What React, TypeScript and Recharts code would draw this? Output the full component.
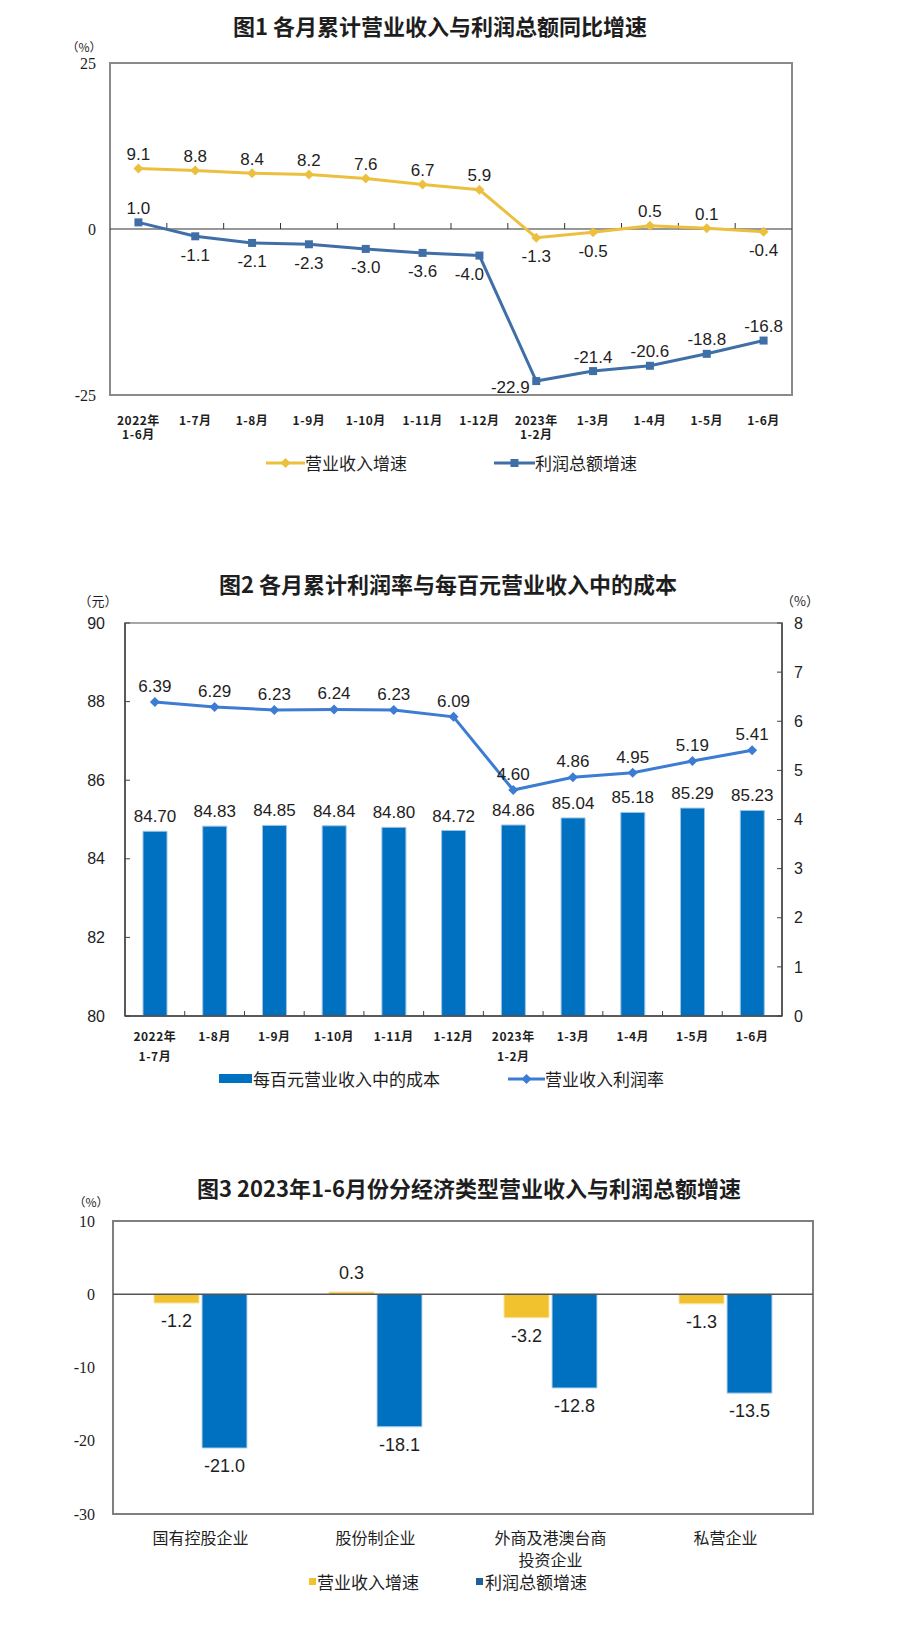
import React from 'react';
import {
  LineChart,
  Line,
  BarChart,
  Bar,
  ComposedChart,
  XAxis,
  YAxis,
  ReferenceLine,
  ReferenceArea,
  LabelList,
} from 'recharts';

const SANS = '"Liberation Sans", Arial, "Noto Sans CJK SC", sans-serif';
const SERIF = '"Liberation Serif", "Times New Roman", serif';
const CJK = '"Noto Sans CJK SC", "Noto Sans", sans-serif';

// 图1 各月累计营业收入与利润总额同比增速
const months1 = ['2022年\n1-6月', '1-7月', '1-8月', '1-9月', '1-10月', '1-11月', '1-12月', '2023年\n1-2月', '1-3月', '1-4月', '1-5月', '1-6月'];
const revenueGrowth1 = [9.1, 8.8, 8.4, 8.2, 7.6, 6.7, 5.9, -1.3, -0.5, 0.5, 0.1, -0.4];
const profitGrowth1 = [1.0, -1.1, -2.1, -2.3, -3.0, -3.6, -4.0, -22.9, -21.4, -20.6, -18.8, -16.8];
const revenueLabelSide1 = ['above', 'above', 'above', 'above', 'above', 'above', 'above', 'below', 'below', 'above', 'above', 'below'];
const profitLabelSide1 = ['above', 'below', 'below', 'below', 'below', 'below', 'belowLeft', 'left', 'above', 'above', 'above', 'above'];

// 图2 各月累计利润率与每百元营业收入中的成本
const months2 = ['2022年\n1-7月', '1-8月', '1-9月', '1-10月', '1-11月', '1-12月', '2023年\n1-2月', '1-3月', '1-4月', '1-5月', '1-6月'];
const costPer100 = [84.7, 84.83, 84.85, 84.84, 84.8, 84.72, 84.86, 85.04, 85.18, 85.29, 85.23];
const profitMargin = [6.39, 6.29, 6.23, 6.24, 6.23, 6.09, 4.6, 4.86, 4.95, 5.19, 5.41];

// 图3 2023年1-6月份分经济类型营业收入与利润总额增速
const ownershipTypes = ['国有控股企业', '股份制企业', '外商及港澳台商\n投资企业', '私营企业'];
const revenueGrowth3 = [-1.2, 0.3, -3.2, -1.3];
const profitGrowth3 = [-21.0, -18.1, -12.8, -13.5];

const data1 = months1.map((m, i) => ({ month: m, revenue: revenueGrowth1[i], profit: profitGrowth1[i] }));
const data2 = months2.map((m, i) => ({ month: m, cost: costPer100[i], margin: profitMargin[i] }));
const data3 = ownershipTypes.map((t, i) => ({ type: t, revenue: revenueGrowth3[i], profit: profitGrowth3[i] }));

const YELLOW1 = '#EBC03F';
const BLUE1 = '#3F6FA6';
const BAR_BLUE = '#0070C0';
const LINE_BLUE2 = '#3C7CD3';
const YELLOW3 = '#F2C12E';
const TEXT = '#1e1e1e';

function multiLineTick(offset: number, lineH: number, fontSize: number, fontFamily: string, weight: number | string, spacing = 0) {
  return (props: any) => {
    const { x, y, payload } = props;
    const lines = String(payload.value).split('\n');
    return (
      <g>
        {lines.map((l, i) => (
          <text key={i} x={x} y={y + offset + i * lineH} textAnchor="middle" dominantBaseline="central"
            fontSize={fontSize} fontFamily={fontFamily} fontWeight={weight} letterSpacing={spacing} fill={TEXT}>
            {l}
          </text>
        ))}
      </g>
    );
  };
}

function lineWithBoundaryTicks(count: number, len: number, color: string, width: number) {
  return (props: any) => {
    const { x1, x2, y1, y2 } = props;
    const step = (x2 - x1) / count;
    const ticks = [];
    for (let k = 1; k < count; k++) {
      ticks.push(<line key={k} x1={x1 + k * step} x2={x1 + k * step} y1={y1} y2={y1 - len} stroke={color} strokeWidth={1} />);
    }
    return (
      <g>
        <line x1={x1} y1={y1} x2={x2} y2={y2} stroke={color} strokeWidth={width} />
        {ticks}
      </g>
    );
  };
}

function pointLabel(sides: string[], fontSize: number) {
  return (props: any) => {
    const vb = props.viewBox || {};
    const x = props.x ?? vb.x;
    const y = props.y ?? vb.y;
    const side = sides[props.index];
    let dx = 0;
    let dy = -14;
    if (side === 'below') dy = 19;
    if (side === 'belowLeft') { dx = -10; dy = 19; }
    if (side === 'left') { dx = -26; dy = 6; }
    return (
      <text x={x + dx} y={y + dy} textAnchor="middle" dominantBaseline="central" fontSize={fontSize} fontFamily={SANS} fill={TEXT}>
        {Number(props.value).toFixed(1)}
      </text>
    );
  };
}

function barEndLabel(props: any) {
  const vb = props.viewBox || props;
  const top = Math.min(vb.y, vb.y + vb.height);
  const bottom = Math.max(vb.y, vb.y + vb.height);
  const cx = vb.x + vb.width / 2;
  const v = Number(props.value);
  const ty = v < 0 ? bottom + 18 : top - 19;
  return (
    <text x={cx} y={ty} textAnchor="middle" dominantBaseline="central" fontSize={18} fontFamily={SANS} fill={TEXT}>
      {v.toFixed(1)}
    </text>
  );
}

const diamond = (color: string, r: number) => (props: any) => {
  const { cx, cy, index } = props;
  if (cx == null || cy == null) return null;
  return <path key={index} d={`M${cx} ${cy - r}L${cx + r} ${cy}L${cx} ${cy + r}L${cx - r} ${cy}Z`} fill={color} />;
};

const square = (color: string, s: number) => (props: any) => {
  const { cx, cy, index } = props;
  if (cx == null || cy == null) return null;
  return <rect key={index} x={cx - s / 2} y={cy - s / 2} width={s} height={s} fill={color} />;
};

const abs = (left: number, top: number, extra: React.CSSProperties = {}): React.CSSProperties => ({
  position: 'absolute', left, top, ...extra,
});

function Title({ text, cx, cy }: { text: string; cx: number; cy: number }) {
  return (
    <div style={abs(cx, cy, { transform: 'translate(-50%, -50%)', whiteSpace: 'nowrap', fontFamily: CJK, fontSize: 22, fontWeight: 700, color: TEXT, lineHeight: '26px' })}>
      {text}
    </div>
  );
}

function Unit({ text, cx, cy, size }: { text: string; cx: number; cy: number; size: number }) {
  return (
    <div style={abs(cx, cy, { transform: 'translate(-50%, -50%)', whiteSpace: 'nowrap', fontFamily: CJK, fontSize: size, color: TEXT, lineHeight: `${size + 2}px` })}>
      {text}
    </div>
  );
}

function LegendText({ text, left, cy }: { text: string; left: number; cy: number }) {
  return (
    <div style={abs(left, cy - 11, { whiteSpace: 'nowrap', fontFamily: CJK, fontSize: 17, color: TEXT, lineHeight: '22px' })}>
      {text}
    </div>
  );
}

function Chart1() {
  return (
    <>
      <Title text="图1  各月累计营业收入与利润总额同比增速" cx={440} cy={25} />
      <Unit text="（%）" cx={84} cy={47} size={12} />
      <div style={abs(0, 0)}>
        <LineChart width={917} height={500} data={data1} margin={{ top: 63, right: 125, bottom: 0, left: 0 }}>
          <ReferenceArea y1={-25} y2={25} fill="none" stroke="#8a8a8a" strokeWidth={2} />
          <XAxis dataKey="month" scale="band" height={105} interval={0} axisLine={false} tickLine={false} tickSize={0} tickMargin={0}
            tick={multiLineTick(24, 14, 12, CJK, 700, 0.5)} />
          <YAxis width={110} domain={[-25, 25]} ticks={[-25, 0, 25]} axisLine={false} tickLine={false} tickSize={0} tickMargin={14}
            tick={{ fontSize: 16, fontFamily: SERIF, fill: TEXT }} />
          <ReferenceLine y={0} shape={lineWithBoundaryTicks(months1.length, 6, '#333', 1.2)} />
          <Line dataKey="revenue" stroke={YELLOW1} strokeWidth={3} dot={diamond(YELLOW1, 5)} activeDot={false} isAnimationActive={false}>
            <LabelList dataKey="revenue" content={pointLabel(revenueLabelSide1, 17)} />
          </Line>
          <Line dataKey="profit" stroke={BLUE1} strokeWidth={3} dot={square(BLUE1, 8)} activeDot={false} isAnimationActive={false}>
            <LabelList dataKey="profit" content={pointLabel(profitLabelSide1, 17)} />
          </Line>
        </LineChart>
      </div>
      <svg style={abs(266, 457)} width={39} height={12}>
        <line x1={0} x2={39} y1={6} y2={6} stroke={YELLOW1} strokeWidth={3} />
        <path d="M19.5 1L24.5 6L19.5 11L14.5 6Z" fill={YELLOW1} />
      </svg>
      <LegendText text="营业收入增速" left={305} cy={463} />
      <svg style={abs(494, 457)} width={41} height={12}>
        <line x1={0} x2={41} y1={6} y2={6} stroke={BLUE1} strokeWidth={3} />
        <rect x={16.5} y={2} width={8} height={8} fill={BLUE1} />
      </svg>
      <LegendText text="利润总额增速" left={535} cy={463} />
    </>
  );
}

function Chart2() {
  return (
    <>
      <Title text="图2  各月累计利润率与每百元营业收入中的成本" cx={448} cy={583} />
      <Unit text="（元）" cx={98} cy={600} size={13} />
      <Unit text="（%）" cx={800} cy={600} size={13} />
      <div style={abs(0, 540)}>
        <ComposedChart width={917} height={560} data={data2} margin={{ top: 83, right: 75, bottom: 0, left: 0 }}>
          <ReferenceArea yAxisId="left" y1={80} y2={90} fill="none" stroke="#a6a6a6" strokeWidth={2} />
          <XAxis dataKey="month" height={84} interval={0} axisLine={false} tickLine={false} tickSize={0} tickMargin={0}
            tick={multiLineTick(19, 20, 12, CJK, 700, 0.5)} />
          <YAxis yAxisId="left" width={125} domain={[80, 90]} ticks={[80, 82, 84, 86, 88, 90]}
            axisLine={{ stroke: '#404040', strokeWidth: 1.5 }} tickLine={{ stroke: '#404040' }} tickSize={-5} tickMargin={25}
            tick={{ fontSize: 16, fontFamily: SANS, fill: TEXT }} />
          <YAxis yAxisId="right" orientation="right" width={60} domain={[0, 8]} ticks={[0, 1, 2, 3, 4, 5, 6, 7, 8]}
            axisLine={{ stroke: '#404040', strokeWidth: 1.5 }} tickLine={{ stroke: '#404040' }} tickSize={-5} tickMargin={17}
            tick={{ fontSize: 16, fontFamily: SANS, fill: TEXT, textAnchor: 'start' }} />
          <Bar yAxisId="left" dataKey="cost" barSize={24} fill={BAR_BLUE} stroke="#9DC3E6" strokeWidth={1} isAnimationActive={false}>
            <LabelList dataKey="cost" position="top" offset={9} fontSize={17} fontFamily={SANS} fill={TEXT}
              formatter={(v: any) => Number(v).toFixed(2)} />
          </Bar>
          <ReferenceLine yAxisId="left" y={80} shape={lineWithBoundaryTicks(months2.length, 5, '#404040', 1.5)} />
          <Line yAxisId="right" dataKey="margin" stroke={LINE_BLUE2} strokeWidth={3} dot={diamond(LINE_BLUE2, 5)} activeDot={false} isAnimationActive={false}>
            <LabelList dataKey="margin" position="top" offset={10} fontSize={17} fontFamily={SANS} fill={TEXT}
              formatter={(v: any) => Number(v).toFixed(2)} />
          </Line>
        </ComposedChart>
      </div>
      <div style={abs(219, 1074, { width: 33, height: 9, background: BAR_BLUE })} />
      <LegendText text="每百元营业收入中的成本" left={253} cy={1079} />
      <svg style={abs(508, 1073)} width={37} height={12}>
        <line x1={0} x2={37} y1={6} y2={6} stroke={LINE_BLUE2} strokeWidth={3} />
        <path d="M18.5 1L23.5 6L18.5 11L13.5 6Z" fill={LINE_BLUE2} />
      </svg>
      <LegendText text="营业收入利润率" left={545} cy={1079} />
    </>
  );
}

function Chart3() {
  return (
    <>
      <Title text="图3  2023年1-6月份分经济类型营业收入与利润总额增速" cx={469} cy={1187} />
      <Unit text="（%）" cx={91} cy={1202} size={12} />
      <div style={abs(0, 1150)}>
        <BarChart width={917} height={491} data={data3} margin={{ top: 71, right: 104, bottom: 0, left: 0 }} barGap={3}>
          <ReferenceArea y1={-30} y2={10} fill="none" stroke="#7f7f7f" strokeWidth={2} />
          <XAxis dataKey="type" height={127} interval={0} axisLine={false} tickLine={false} tickSize={0} tickMargin={0}
            tick={multiLineTick(23, 22, 16, CJK, 400)} />
          <YAxis width={113} domain={[-30, 10]} ticks={[-30, -20, -10, 0, 10]} axisLine={false} tickLine={false} tickSize={0} tickMargin={18}
            tick={{ fontSize: 16, fontFamily: SERIF, fill: TEXT }} />
          <Bar dataKey="revenue" barSize={45} fill={YELLOW3} stroke="#FBE3A0" strokeWidth={1} isAnimationActive={false}>
            <LabelList dataKey="revenue" content={barEndLabel} />
          </Bar>
          <Bar dataKey="profit" barSize={45} fill={BAR_BLUE} stroke="#BDD7EE" strokeWidth={1} isAnimationActive={false}>
            <LabelList dataKey="profit" content={barEndLabel} />
          </Bar>
          <ReferenceLine y={0} stroke="#555" strokeWidth={1.5} />
        </BarChart>
      </div>
      <div style={abs(309, 1578, { width: 7, height: 7, background: YELLOW3 })} />
      <LegendText text="营业收入增速" left={317} cy={1582} />
      <div style={abs(476, 1578, { width: 7, height: 7, background: '#1F5F9A' })} />
      <LegendText text="利润总额增速" left={485} cy={1582} />
    </>
  );
}

export default function App() {
  return (
    <div style={{ position: 'absolute', left: 0, top: 0, width: 917, height: 1641, background: '#fff', overflow: 'hidden' }}>
      <Chart1 />
      <Chart2 />
      <Chart3 />
    </div>
  );
}
